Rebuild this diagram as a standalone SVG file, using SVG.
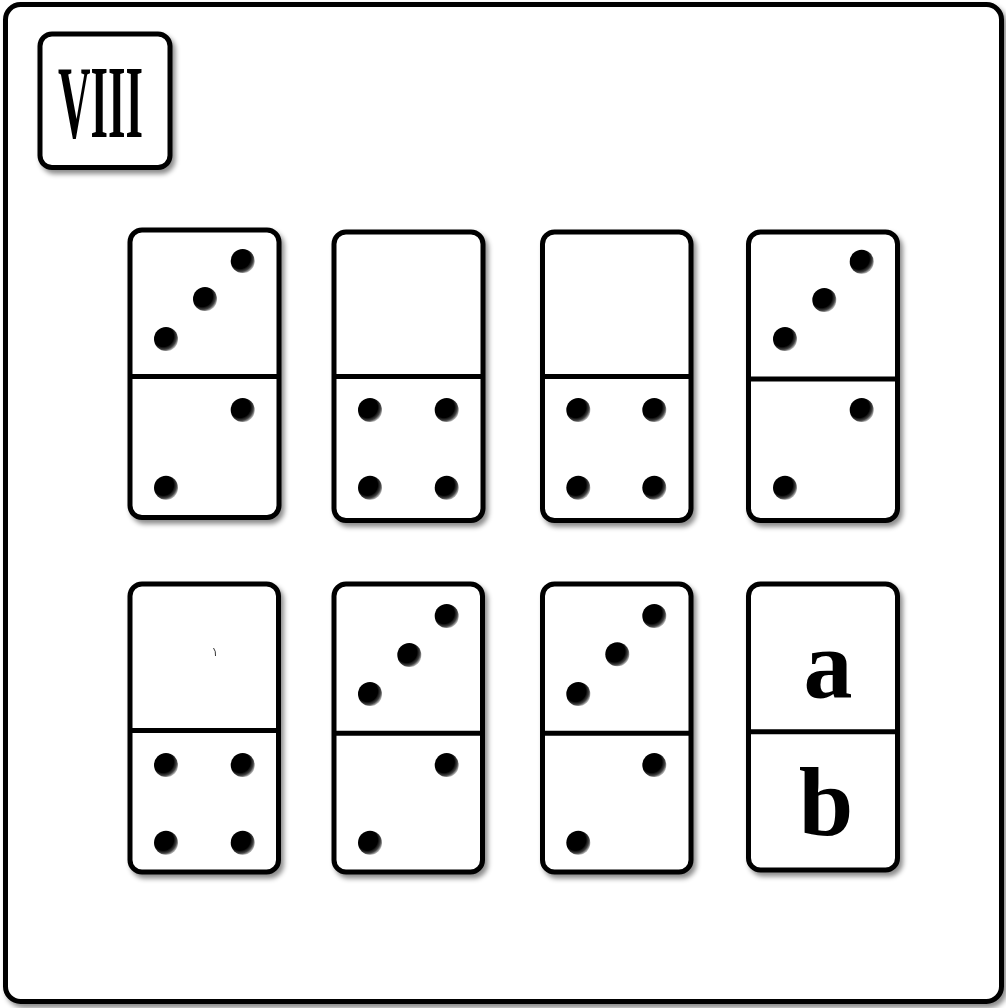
<svg xmlns="http://www.w3.org/2000/svg" width="1006" height="1008" viewBox="0 0 1006 1008">
<style>
.tile{fill:#fff;stroke:#000;stroke-width:5}
.div{stroke:#000;stroke-width:5}
.pip{fill:url(#pipg)}
.lbl{font-family:"Liberation Serif","Times New Roman",serif;font-weight:bold;fill:#000}
</style>
<defs>
<filter id="sh" x="-10%" y="-10%" width="130%" height="130%">
<feDropShadow dx="3" dy="4" stdDeviation="2.5" flood-color="#000" flood-opacity="0.45"/>
</filter>
<radialGradient id="pipg" cx="0.4" cy="0.4" r="0.62" fx="0.35" fy="0.35">
<stop offset="0" stop-color="#000"/>
<stop offset="0.7" stop-color="#000"/>
<stop offset="0.88" stop-color="#444"/>
<stop offset="1" stop-color="#aaa"/>
</radialGradient>
</defs>
<rect width="1006" height="1008" fill="#fff"/>
<g id="frame">
<rect x="5.5" y="4.5" width="996" height="997" rx="15" fill="#fff" stroke="#000" stroke-width="5" filter="url(#sh)"/>
</g>
<g id="label-viii">
<rect x="40" y="34" width="130" height="133.5" rx="12" fill="#fff" stroke="#000" stroke-width="5" filter="url(#sh)"/>
<text class="lbl" x="58" y="137" font-size="104" textLength="85" lengthAdjust="spacingAndGlyphs">VIII</text>
</g>
<g id="domino-1">
<rect class="tile" x="130" y="230" width="149" height="287.5" rx="12" filter="url(#sh)"/>
<line class="div" x1="130" y1="376.5" x2="279" y2="376.5"/>
<circle class="pip" cx="242.7" cy="261" r="12"/>
<circle class="pip" cx="205" cy="299" r="12"/>
<circle class="pip" cx="166" cy="339" r="12"/>
<circle class="pip" cx="242.7" cy="410" r="12"/>
<circle class="pip" cx="166" cy="487.7" r="12"/>
</g>
<g id="domino-2">
<rect class="tile" x="334" y="232" width="149" height="288.5" rx="12" filter="url(#sh)"/>
<line class="div" x1="334" y1="376.5" x2="483" y2="376.5"/>
<circle class="pip" cx="370" cy="410" r="12"/>
<circle class="pip" cx="446.7" cy="410" r="12"/>
<circle class="pip" cx="370" cy="487.7" r="12"/>
<circle class="pip" cx="446.7" cy="487.7" r="12"/>
</g>
<g id="domino-3">
<rect class="tile" x="542.5" y="232" width="148.5" height="288.5" rx="12" filter="url(#sh)"/>
<line class="div" x1="542.5" y1="376.5" x2="691" y2="376.5"/>
<circle class="pip" cx="578.3" cy="410" r="12"/>
<circle class="pip" cx="654.3" cy="410" r="12"/>
<circle class="pip" cx="578.3" cy="487.7" r="12"/>
<circle class="pip" cx="654.3" cy="487.7" r="12"/>
</g>
<g id="domino-4">
<rect class="tile" x="748.5" y="232" width="149" height="288.5" rx="12" filter="url(#sh)"/>
<line class="div" x1="748.5" y1="379" x2="897.5" y2="379"/>
<circle class="pip" cx="861.7" cy="261.7" r="12"/>
<circle class="pip" cx="824.3" cy="300" r="12"/>
<circle class="pip" cx="785" cy="339" r="12"/>
<circle class="pip" cx="861.7" cy="410" r="12"/>
<circle class="pip" cx="785" cy="487.7" r="12"/>
</g>
<g id="domino-5">
<rect class="tile" x="130" y="584" width="148.5" height="288" rx="12" filter="url(#sh)"/>
<line class="div" x1="130" y1="730.5" x2="278.5" y2="730.5"/>
<path d="M213.5 648 Q216 651 215.5 656" fill="none" stroke="#000" stroke-width="0.8"/>
<circle class="pip" cx="166" cy="765" r="12"/>
<circle class="pip" cx="242.7" cy="765" r="12"/>
<circle class="pip" cx="166" cy="842.7" r="12"/>
<circle class="pip" cx="242.7" cy="842.7" r="12"/>
</g>
<g id="domino-6">
<rect class="tile" x="334" y="584" width="148.5" height="288" rx="12" filter="url(#sh)"/>
<line class="div" x1="334" y1="733.3" x2="482.5" y2="733.3"/>
<circle class="pip" cx="446.7" cy="616" r="12"/>
<circle class="pip" cx="409.3" cy="655" r="12"/>
<circle class="pip" cx="370" cy="694" r="12"/>
<circle class="pip" cx="446.7" cy="765" r="12"/>
<circle class="pip" cx="370" cy="842.7" r="12"/>
</g>
<g id="domino-7">
<rect class="tile" x="542.5" y="584" width="148.5" height="288" rx="12" filter="url(#sh)"/>
<line class="div" x1="542.5" y1="733.3" x2="691" y2="733.3"/>
<circle class="pip" cx="654.3" cy="616" r="12"/>
<circle class="pip" cx="617.3" cy="654.3" r="12"/>
<circle class="pip" cx="578.3" cy="694" r="12"/>
<circle class="pip" cx="654.3" cy="765" r="12"/>
<circle class="pip" cx="578.3" cy="842.7" r="12"/>
</g>
<g id="domino-8">
<rect class="tile" x="748.5" y="584" width="149" height="286" rx="12" filter="url(#sh)"/>
<line class="div" x1="748.5" y1="731.7" x2="897.5" y2="731.7"/>
<text class="lbl" x="828" y="697" font-size="98" text-anchor="middle">a</text>
<text class="lbl" x="826" y="835" font-size="98" text-anchor="middle">b</text>
</g>
</svg>
